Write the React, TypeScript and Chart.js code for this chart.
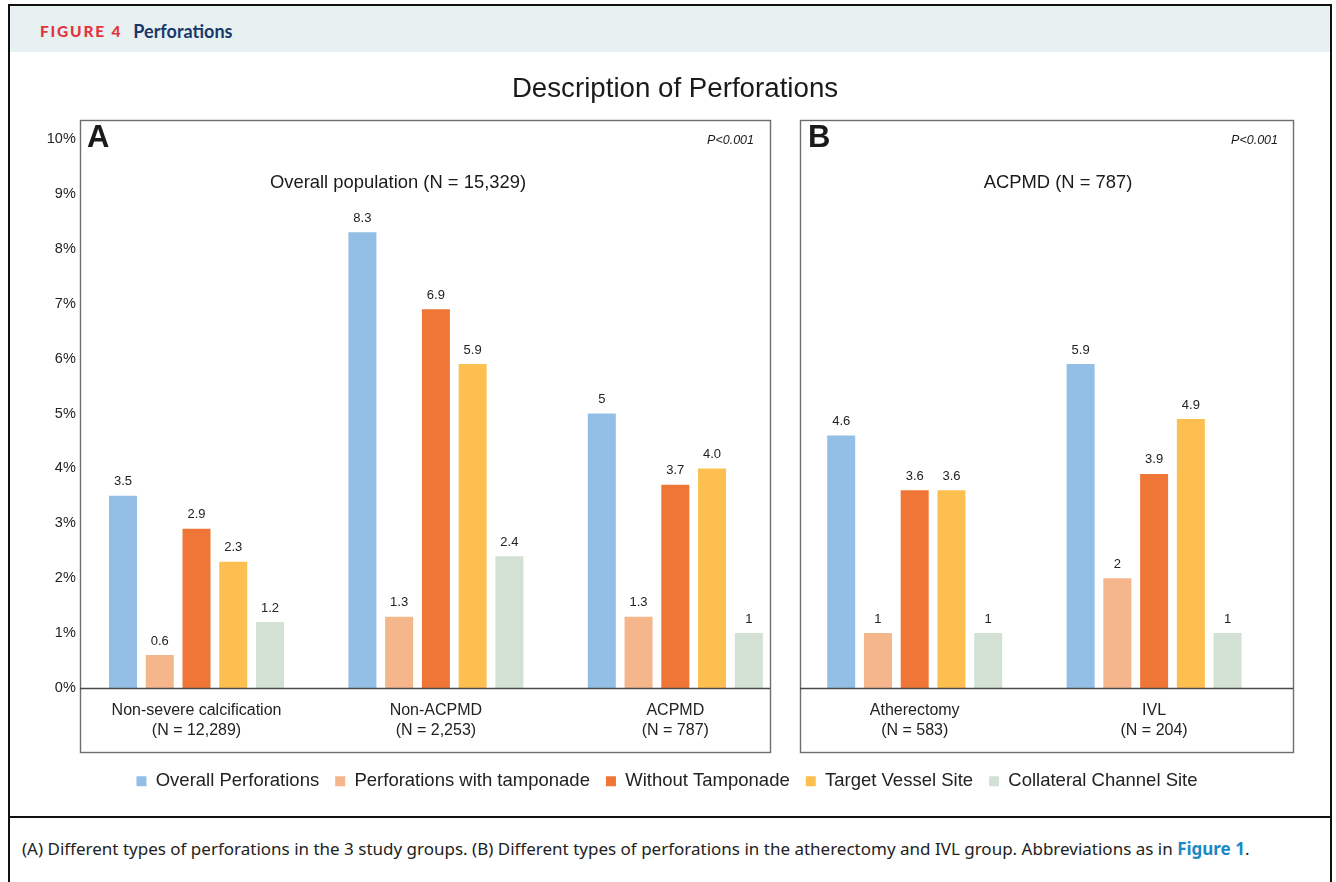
import React, { useEffect, useRef } from "react";
import { Chart, registerables } from "chart.js";

Chart.register(...registerables);

// Study groups: panel A holds the first three, panel B the last two
const categories = [
  ["Non-severe calcification", "(N = 12,289)"],
  ["Non-ACPMD", "(N = 2,253)"],
  ["ACPMD", "(N = 787)"],
  ["Atherectomy", "(N = 583)"],
  ["IVL", "(N = 204)"],
];

const seriesNames = [
  "Overall Perforations",
  "Perforations with tamponade",
  "Without Tamponade",
  "Target Vessel Site",
  "Collateral Channel Site",
];

// Percentages as printed above each bar; bar heights come from the same strings
const overallPerforations = ["3.5", "8.3", "5", "4.6", "5.9"];
const perforationsWithTamponade = ["0.6", "1.3", "1.3", "1", "2"];
const withoutTamponade = ["2.9", "6.9", "3.7", "3.6", "3.9"];
const targetVesselSite = ["2.3", "5.9", "4.0", "3.6", "4.9"];
const collateralChannelSite = ["1.2", "2.4", "1", "1", "1"];

const seriesLabels = [
  overallPerforations,
  perforationsWithTamponade,
  withoutTamponade,
  targetVesselSite,
  collateralChannelSite,
];

const seriesColors = ["#93BFE6", "#F4B68A", "#F07638", "#FDBF4F", "#D3E0D4"];

const yMin = 0;
const yMax = 10;
const yStep = 1;

const panelLetters = ["A", "B"];
const panelTitles = ["Overall population (N = 15,329)", "ACPMD (N = 787)"];
const panelPValues = ["P<0.001", "P<0.001"];

const chartTitle = "Description of Perforations";

const ARIAL = "'Liberation Sans', Arial, Helvetica, sans-serif";

// Frame geometry for the two panels (canvas pixels)
const panelBoxes = [
  { left: 80, right: 770, top: 120, bottom: 752, titleX: 398, letterX: 87, pRight: 754 },
  { left: 800, right: 1293, top: 120, bottom: 752, titleX: 1058, letterX: 808, pRight: 1278 },
];

// horizontal offset that centres the legend row under the whole figure
const LEGEND_SHIFT = 20.1;

const panelPlugin = {
  id: "panelDecor",
  afterLayout(chart: any) {
    if (chart.legend) {
      chart.legend.left += LEGEND_SHIFT;
      chart.legend.right += LEGEND_SHIFT;
    }
  },
  afterDatasetsDraw(chart: any) {
    const { ctx } = chart;
    const zeroY = chart.scales.y.getPixelForValue(0);
    ctx.save();
    // panel frames
    ctx.strokeStyle = "#6E6E6E";
    ctx.lineWidth = 1.4;
    panelBoxes.forEach((b) => {
      ctx.strokeRect(b.left + 0.5, b.top + 0.5, b.right - b.left, b.bottom - b.top);
    });
    // zero baseline inside each panel
    ctx.strokeStyle = "#4A4A4A";
    ctx.lineWidth = 1.3;
    panelBoxes.forEach((b) => {
      ctx.beginPath();
      ctx.moveTo(b.left, Math.round(zeroY) + 0.5);
      ctx.lineTo(b.right, Math.round(zeroY) + 0.5);
      ctx.stroke();
    });
    // value labels above bars
    ctx.font = `13px ${ARIAL}`;
    ctx.fillStyle = "#222";
    ctx.textAlign = "center";
    ctx.textBaseline = "middle";
    chart.data.datasets.forEach((_ds: any, i: number) => {
      const meta = chart.getDatasetMeta(i);
      meta.data.forEach((bar: any, j: number) => {
        ctx.fillText(seriesLabels[i][j], bar.x, bar.y - 14);
      });
    });
    ctx.restore();
  },
  afterDraw(chart: any) {
    const { ctx } = chart;
    ctx.save();
    ctx.fillStyle = "#1A1A1A";
    ctx.textBaseline = "middle";
    // main title
    ctx.font = `27.7px ${ARIAL}`;
    ctx.textAlign = "center";
    ctx.fillText(chartTitle, 675, 89);
    panelBoxes.forEach((b, i) => {
      ctx.font = `bold 31px ${ARIAL}`;
      ctx.textAlign = "left";
      ctx.fillText(panelLetters[i], b.letterX, 138);
      ctx.font = `italic 12.5px ${ARIAL}`;
      ctx.textAlign = "right";
      ctx.fillText(panelPValues[i], b.pRight, 141);
      ctx.font = `18.4px ${ARIAL}`;
      ctx.textAlign = "center";
      ctx.fillText(panelTitles[i], b.titleX, 183);
    });
    ctx.restore();
  },
};

function PerforationChart() {
  const canvasRef = useRef<HTMLCanvasElement | null>(null);

  useEffect(() => {
    if (!canvasRef.current) return;
    const chart = new Chart(canvasRef.current, {
      type: "bar",
      data: {
        labels: categories,
        datasets: seriesNames.map((name, i) => ({
          label: name,
          data: seriesLabels[i].map((s) => Number(s)),
          backgroundColor: seriesColors[i],
          borderWidth: 0,
          categoryPercentage: 0.7675,
          barPercentage: 0.762,
        })),
      },
      options: {
        responsive: false,
        animation: false,
        layout: { padding: { left: 20, right: 62.2, top: 139, bottom: 9.5 } },
        scales: {
          x: {
            grid: { display: false, drawTicks: false },
            border: { display: false },
            ticks: {
              color: "#222",
              font: { family: ARIAL, size: 16 },
              padding: 13.4,
              maxRotation: 0,
              autoSkip: false,
            },
            afterFit: (axis: any) => {
              axis.height = 68;
            },
          },
          y: {
            min: yMin,
            max: yMax,
            grid: { display: false, drawTicks: false },
            border: { display: false },
            ticks: {
              stepSize: yStep,
              color: "#222",
              font: { family: ARIAL, size: 14.5 },
              padding: 1,
              callback: (v: any) => `${v}%`,
            },
            afterFit: (axis: any) => {
              axis.width = 56.8;
            },
          },
        },
        plugins: {
          legend: {
            position: "bottom",
            labels: {
              boxWidth: 10,
              boxHeight: 10,
              padding: 16,
              color: "#222",
              font: { family: ARIAL, size: 18.5 },
            },
          },
          tooltip: { enabled: false },
          title: { display: false },
        },
      },
      plugins: [panelPlugin],
    });
    return () => chart.destroy();
  }, []);

  return (
    <canvas
      ref={canvasRef}
      width={1336}
      height={810}
      style={{ position: "absolute", left: 0, top: 0, width: 1336, height: 810 }}
    />
  );
}

export default function App() {
  return (
    <div
      style={{
        position: "absolute",
        left: 0,
        top: 0,
        width: 1336,
        height: 882,
        overflow: "hidden",
        background: "#fff",
      }}
    >
      {/* outer figure frame */}
      <div
        style={{
          position: "absolute",
          left: 8,
          top: 4,
          width: 1324,
          height: 1000,
          boxSizing: "border-box",
          border: "2px solid #111",
        }}
      />
      {/* header band */}
      <div
        style={{
          position: "absolute",
          left: 10,
          top: 6,
          width: 1320,
          height: 46,
          background: "#E8F1F1",
        }}
      />
      <div
        style={{
          position: "absolute",
          left: 40,
          top: 6,
          height: 50,
          display: "flex",
          alignItems: "center",
          whiteSpace: "nowrap",
          fontFamily: "Lato, 'Open Sans', sans-serif",
        }}
      >
        <span
          style={{
            color: "#E3343F",
            fontWeight: 900,
            fontSize: 15.5,
            letterSpacing: 1.8,
          }}
        >
          FIGURE 4
        </span>
        <span
          style={{
            color: "#18386B",
            fontWeight: 700,
            fontSize: 18,
            marginLeft: 11,
          }}
        >
          Perforations
        </span>
      </div>
      <PerforationChart />
      {/* divider above caption */}
      <div
        style={{
          position: "absolute",
          left: 10,
          top: 816,
          width: 1320,
          height: 2,
          background: "#111",
        }}
      />
      <div
        style={{
          position: "absolute",
          left: 22,
          top: 836,
          height: 24,
          display: "flex",
          alignItems: "center",
          whiteSpace: "nowrap",
          fontFamily: "'Noto Sans', 'Open Sans', sans-serif",
          fontSize: 17,
          color: "#222",
        }}
      >
        <span>
          (A) Different types of perforations in the 3 study groups. (B) Different types of perforations
          in the atherectomy and IVL group. Abbreviations as in{" "}
          <span style={{ color: "#1A8AC4", fontWeight: 700 }}>Figure 1</span>.
        </span>
      </div>
    </div>
  );
}
